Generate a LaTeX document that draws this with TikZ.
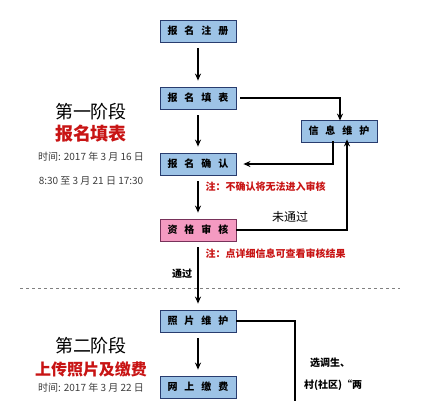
\documentclass[tikz,border=0pt]{standalone}
\usepackage{fontspec}
\setmainfont{Noto Sans CJK SC}
\usetikzlibrary{arrows.meta}
\definecolor{boxblue}{RGB}{157,195,230}
\definecolor{edgeblue}{RGB}{40,60,110}
\definecolor{boxpink}{RGB}{244,154,193}
\definecolor{edgepink}{RGB}{120,50,90}
\definecolor{notered}{RGB}{200,20,20}
\definecolor{timegray}{RGB}{60,60,60}
\newcommand{\gp}{\hspace{0.7em}}

\tikzset{
  stagebox/.style={draw=edgeblue, fill=boxblue, line width=0.8pt,
    minimum width=76pt, minimum height=22pt, inner sep=0pt,
    font=\bfseries\fontsize{10}{10}\selectfont},
  checkbox/.style={stagebox, draw=edgepink, fill=boxpink},
  arr/.style={-{Stealth[length=7pt,width=6pt]}, line width=1.5pt},
  wire/.style={line width=1.5pt},
  note/.style={anchor=west, text=notered, font=\bfseries\fontsize{10}{10}\selectfont},
  phase/.style={font=\fontsize{18}{18}\selectfont},
  phasered/.style={text=notered, font=\bfseries\fontsize{18}{18}\selectfont},
  timetxt/.style={text=timegray, font=\fontsize{10}{10}\selectfont}
}

\begin{document}
\begin{tikzpicture}[x=1pt,y=-1pt]
\useasboundingbox (0,0) rectangle (421,400);

% main column
\node[stagebox] (zhuce) at (198,31) {报\gp 名\gp 注\gp 册};
\node[stagebox] (tianbiao) at (198,98) {报\gp 名\gp 填\gp 表};
\node[stagebox] (weihu) at (339,131) {信\gp 息\gp 维\gp 护};
\node[stagebox] (queren) at (198,164) {报\gp 名\gp 确\gp 认};
\node[checkbox] (shenhe) at (198,230) {资\gp 格\gp 审\gp 核};
\node[stagebox] (zhaopian) at (198,321) {照\gp 片\gp 维\gp 护};
\node[stagebox] (jiaofei) at (198,387) {网\gp 上\gp 缴\gp 费};
\coordinate (bottom) at (295,402);

% connectors
\draw[arr, shorten <=6pt, shorten >=6pt] (zhuce) -- (tianbiao);
\draw[arr, shorten <=4pt] (tianbiao.east) -| ([xshift=1pt,yshift=-1pt]weihu.north);
\draw[arr] ([xshift=-6pt,yshift=1pt]weihu.south) |- ([xshift=7pt]queren.east);
\draw[arr, shorten <=6pt, shorten >=6pt] (tianbiao) -- (queren);
\draw[arr, shorten <=6pt, shorten >=6pt] (queren) -- (shenhe);
\draw[arr] (shenhe.east) -| ([xshift=8pt,yshift=3pt]weihu.south);
\draw[arr, shorten <=6pt, shorten >=6pt] (shenhe) -- (zhaopian);
\draw[arr, shorten <=6pt, shorten >=6pt] (zhaopian) -- (jiaofei);
\draw[wire] (zhaopian.east) -| (bottom);

% notes
\node[note] (note1) at (202,187) {注：不确认将无法进入审核};
\node[note] (note2) at (202,254) {注：点详细信息可查看审核结果};
\node[font=\fontsize{12}{12}\selectfont] (fail) at (290,217) {未通过};
\node[font=\bfseries\fontsize{10}{10}\selectfont] (pass) at (182,274) {通过};
\node[font=\bfseries\fontsize{10}{10}\selectfont] (xd1) at (330,363) {选调生、};
\node[font=\bfseries\fontsize{10}{10}\selectfont] (xd2) at (333,385) {村(社区)“两};

% stage separator
\draw[dashed, gray, line width=0.6pt] (20,288) -- (400,288);

% stage one
\node[phase] (s1) at (91,112) {第一阶段};
\node[phasered] (s1t) at (91,134) {报名填表};
\node[timetxt] (s1a) at (91,157) {时间: 2017 年 3 月 16 日};
\node[timetxt] (s1b) at (91,181) {8:30 至 3 月 21 日 17:30};

% stage two
\node[phase] (s2) at (91,346) {第二阶段};
\node[phasered, font=\bfseries\fontsize{16}{16}\selectfont] (s2t) at (91,369) {上传照片及缴费};
\node[timetxt] (s2a) at (91,388) {时间: 2017 年 3 月 22 日};
\end{tikzpicture}
\end{document}
